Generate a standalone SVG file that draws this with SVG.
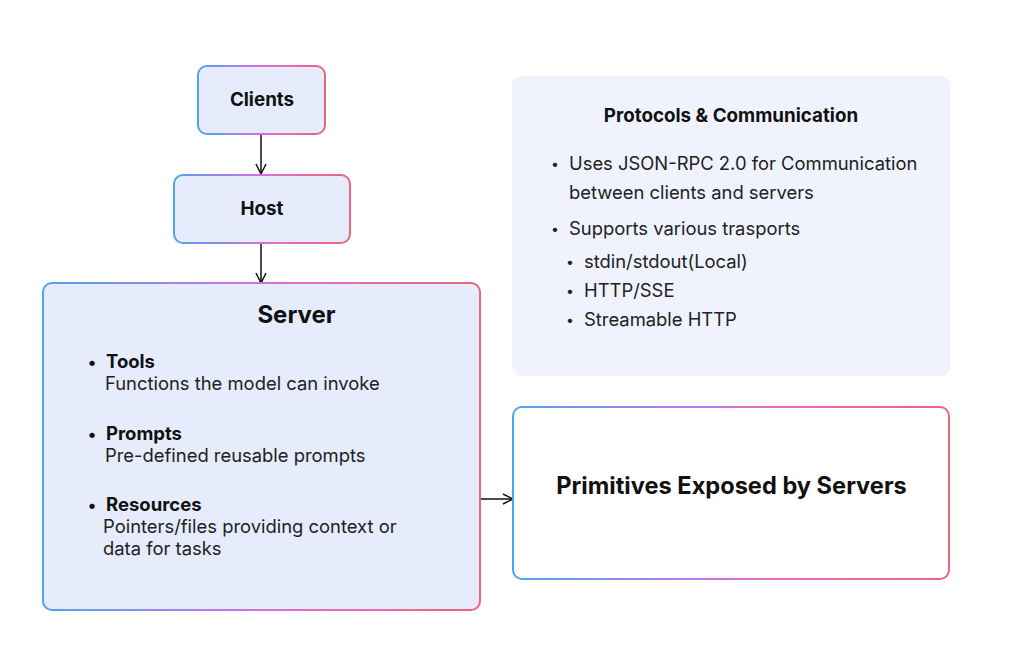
<svg xmlns="http://www.w3.org/2000/svg" width="1024" height="667" viewBox="0 0 1024 667">
<defs>
<linearGradient id="g" x1="0" y1="0" x2="1" y2="0">
<stop offset="0" stop-color="#4aa6ea"/>
<stop offset="0.45" stop-color="#c774e6"/>
<stop offset="0.6" stop-color="#e56cc4"/>
<stop offset="1" stop-color="#e8667c"/>
</linearGradient>
<marker id="arr" viewBox="0 0 12 12" refX="11" refY="6" markerWidth="12" markerHeight="12" markerUnits="userSpaceOnUse" orient="auto">
<path d="M1,1 L11,6 L1,11" fill="none" stroke="#111" stroke-width="1.5"/>
</marker>
<style>
text{font-family:Inter,"Noto Sans","Liberation Sans",sans-serif;fill:#111;}
.node{fill:#e6ecfc;stroke:url(#g);stroke-width:2;}
.b{font-weight:700;}
.t{font-size:18.5px;}
.p{font-size:18.4px;fill:#222;}
.d{font-size:14px;fill:#222;}
.sd{font-size:17px;font-weight:700;fill:#111;}
.conn{stroke:#111;stroke-width:1.5;fill:none;marker-end:url(#arr);}
</style>
</defs>
<rect width="1024" height="667" fill="#fff"/>
<g id="connectors">
<line class="conn" x1="261" y1="134" x2="261" y2="174"/>
<line class="conn" x1="261" y1="243" x2="261" y2="283"/>
<line class="conn" x1="480" y1="499" x2="513" y2="499"/>
</g>
<g id="clients">
<rect class="node" x="198" y="66" width="127" height="68" rx="9"/>
<text class="b" font-size="18.8" x="262" y="106" text-anchor="middle">Clients</text>
</g>
<g id="host">
<rect class="node" x="174" y="175" width="176" height="68" rx="9"/>
<text class="b" font-size="18.8" x="262" y="215" text-anchor="middle">Host</text>
</g>
<g id="server">
<rect class="node" x="43" y="283" width="437" height="327" rx="9"/>
<text class="b" x="296.5" y="323" text-anchor="middle" font-size="24">Server</text>
<text class="sd" x="88" y="368">•</text>
<text class="b t" x="106" y="368">Tools</text>
<text class="p" x="105" y="390">Functions the model can invoke</text>
<text class="sd" x="88" y="440">•</text>
<text class="b t" x="106" y="440">Prompts</text>
<text class="p" x="105" y="462">Pre-defined reusable prompts</text>
<text class="sd" x="88" y="511">•</text>
<text class="b t" x="106" y="511">Resources</text>
<text class="p" x="103" y="533">Pointers/files providing context or</text>
<text class="p" x="103" y="555">data for tasks</text>
</g>
<g id="protocols">
<rect x="512" y="76" width="438" height="300" rx="9" fill="#f0f3fe"/>
<text class="b" x="731" y="122" text-anchor="middle" font-size="18.8">Protocols &amp; Communication</text>
<text class="d" x="551" y="169">•</text>
<text class="p" x="569" y="170">Uses JSON-RPC 2.0 for Communication</text>
<text class="p" x="569" y="199">between clients and servers</text>
<text class="d" x="551" y="234">•</text>
<text class="p" x="569" y="235">Supports various trasports</text>
<text class="d" x="566" y="267">•</text>
<text class="p" x="584" y="268">stdin/stdout(Local)</text>
<text class="d" x="566" y="296">•</text>
<text class="p" x="584" y="297">HTTP/SSE</text>
<text class="d" x="566" y="325">•</text>
<text class="p" x="584" y="326">Streamable HTTP</text>
</g>
<g id="primitives">
<rect x="513" y="407" width="436" height="172" rx="9" fill="#fff" stroke="url(#g)" stroke-width="2"/>
<text class="b" x="731.5" y="494" text-anchor="middle" font-size="23.6">Primitives Exposed by Servers</text>
</g>
</svg>
